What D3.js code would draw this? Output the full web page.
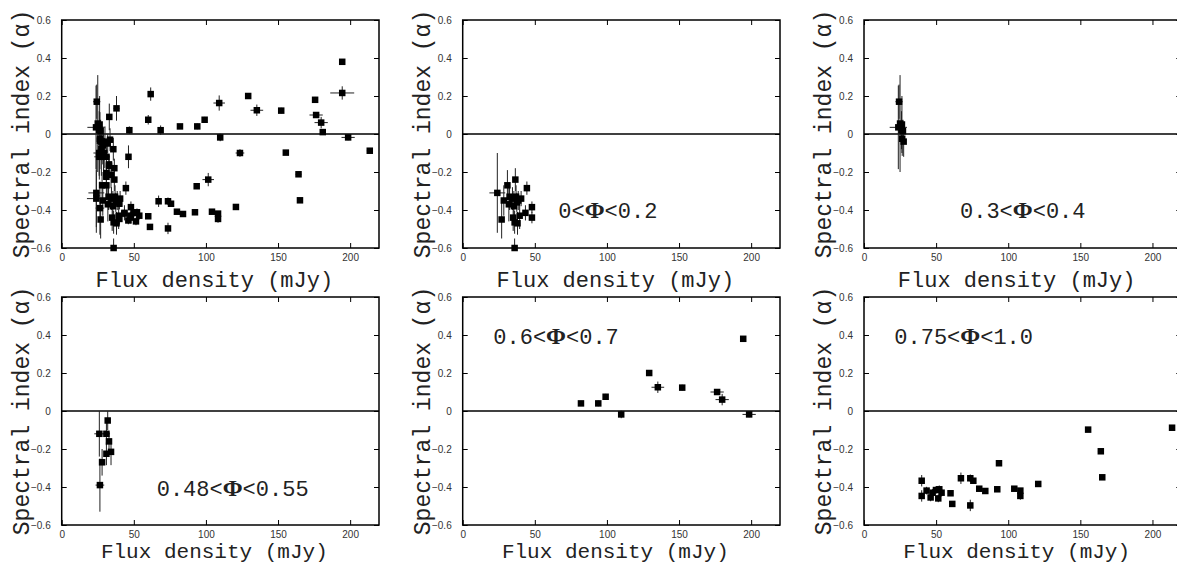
<!DOCTYPE html>
<html>
<head>
<meta charset="utf-8">
<script src="https://cdn.jsdelivr.net/npm/d3@7"></script>
<style>
  html, body { margin: 0; padding: 0; background: #fff; }
  svg { display: block; }
</style>
</head>
<body>
<svg id="chart" width="1177" height="568"></svg>
<script>
// ---- Data: [flux density (mJy), spectral index, flux error, index error] ----
const phase0to02 = [
  [24.0, -0.31, 5.5, 0.21], [27.0, -0.45, 1.5, 0.10], [28.5, -0.35, 1.5, 0.08],
  [31.0, -0.27, 1.5, 0.08], [32.5, -0.33, 1.5, 0.07], [32.0, -0.37, 1.0, 0.09],
  [34.5, -0.34, 1.5, 0.06], [35.5, -0.38, 1.5, 0.08], [35.0, -0.44, 1.0, 0.07],
  [36.5, -0.24, 1.0, 0.06], [37.0, -0.33, 1.5, 0.06], [37.5, -0.36, 1.5, 0.05],
  [36.0, -0.465, 1.0, 0.06], [38.0, -0.47, 1.5, 0.06], [38.5, -0.35, 1.5, 0.05],
  [39.5, -0.43, 1.0, 0.07], [40.5, -0.34, 1.5, 0.04], [44.5, -0.285, 1.0, 0.035],
  [43.5, -0.415, 1.0, 0.04], [48.0, -0.385, 0.8, 0.03], [48.0, -0.44, 0.8, 0.03],
  [36.0, -0.60, 1.0, 0.05]
];
const phase03to04 = [
  [24.3, 0.17, 2.5, 0.09], [23.8, 0.035, 6.0, 0.22], [25.0, 0.055, 1.5, 0.255],
  [26.3, 0.05, 1.5, 0.15], [26.0, 0.02, 1.5, 0.10], [27.0, 0.015, 2.0, 0.06],
  [27.5, -0.04, 1.0, 0.08], [26.5, -0.025, 1.0, 0.09]
];
const phase048to055 = [
  [31.9, -0.05, 1.0, 0.05], [26.1, -0.12, 3.5, 0.12], [31.0, -0.12, 2.5, 0.06],
  [32.8, -0.16, 1.0, 0.05], [34.2, -0.215, 1.5, 0.07], [31.0, -0.225, 1.5, 0.06],
  [28.0, -0.27, 1.5, 0.07], [26.5, -0.39, 3.0, 0.14]
];
const phase06to07 = [
  [82.0, 0.04, 0.8, 0.01], [94.0, 0.04, 0.8, 0.015], [99.1, 0.075, 0.8, 0.015],
  [109.9, -0.018, 1.0, 0.02], [129.3, 0.20, 0.8, 0.01], [135.3, 0.125, 4.4, 0.03],
  [152.2, 0.123, 0.8, 0.015], [176.4, 0.10, 4.6, 0.015], [179.9, 0.06, 4.6, 0.03],
  [194.5, 0.38, 0.8, 0.01], [198.6, -0.018, 4.6, 0.015]
];
const phase075to10 = [
  [40.0, -0.367, 0.5, 0.03], [40.0, -0.447, 0.5, 0.03], [43.4, -0.419, 0.5, 0.02],
  [46.2, -0.455, 0.5, 0.02], [47.6, -0.43, 0.5, 0.02], [49.9, -0.416, 0.5, 0.02],
  [52.2, -0.412, 0.5, 0.02], [51.5, -0.46, 0.5, 0.02], [53.8, -0.43, 0.5, 0.02],
  [60.0, -0.433, 0.5, 0.01], [61.2, -0.489, 0.5, 0.01], [67.2, -0.354, 0.5, 0.03],
  [73.7, -0.354, 0.5, 0.02], [75.8, -0.367, 0.5, 0.01], [73.7, -0.497, 0.5, 0.03],
  [79.9, -0.409, 0.5, 0.01], [84.1, -0.421, 0.5, 0.01], [93.6, -0.275, 0.5, 0.01],
  [92.4, -0.412, 0.5, 0.01], [104.2, -0.409, 0.5, 0.01], [108.4, -0.419, 0.5, 0.01],
  [108.4, -0.447, 0.5, 0.02], [120.8, -0.384, 0.5, 0.01], [155.4, -0.098, 0.5, 0.01],
  [164.2, -0.212, 2.0, 0.01], [165.2, -0.349, 0.5, 0.01], [213.6, -0.088, 2.0, 0.01]
];
// sources shown only in the all-phase panel
const otherPhases = [
  [24.0, -0.34, 6.5, 0.15], [26.5, -0.035, 2.0, 0.15], [27.5, -0.08, 2.5, 0.14],
  [26.0, -0.10, 4.0, 0.12], [28.5, -0.06, 1.5, 0.10], [29.0, -0.12, 1.5, 0.12],
  [30.0, -0.04, 1.5, 0.08], [29.5, -0.10, 1.5, 0.08], [33.5, -0.03, 1.5, 0.06],
  [33.0, 0.09, 1.0, 0.07], [38.0, 0.135, 2.0, 0.065], [35.8, -0.08, 1.0, 0.06],
  [32.8, -0.167, 1.5, 0.06], [36.5, -0.18, 1.5, 0.05], [31.0, -0.205, 1.0, 0.06],
  [46.3, -0.12, 1.5, 0.06], [46.9, 0.02, 1.0, 0.02], [60.0, 0.075, 1.0, 0.025],
  [61.7, 0.21, 1.0, 0.035], [68.6, 0.02, 1.0, 0.025], [101.6, -0.24, 4.0, 0.035],
  [109.2, 0.163, 4.0, 0.04], [123.6, -0.10, 3.0, 0.02], [175.7, 0.18, 1.0, 0.015],
  [181.0, 0.01, 1.0, 0.015], [194.5, 0.216, 8.3, 0.035]
];
const allPhases = [].concat(otherPhases, phase0to02, phase03to04, phase048to055, phase06to07, phase075to10);

const xTicks = [0, 50, 100, 150, 200];
const yTicks = [-0.6, -0.4, -0.2, 0, 0.2, 0.4, 0.6];
const xTitle = "Flux density (mJy)";
const yTitle = "Spectral index (\u03b1)";
const panelLabels = ["", ["0<", "<0.2"], ["0.3<", "<0.4"], ["0.48<", "<0.55"], ["0.6<", "<0.7"], ["0.75<", "<1.0"]];
const panelData = [allPhases, phase0to02, phase03to04, phase048to055, phase06to07, phase075to10];

// ---- Layout ----
const svg = d3.select("#chart");
const W = 317.3, H = 228;
const lefts = [61.7, 462.7, 864];
const tops = [20, 297];
const labelPos = [null, [95.6, 198], [96, 198], [95, 198.7], [30.6, 46.7], [30.3, 46.7]];
const xTitleOff = [38.5, 33];

const x = d3.scaleLinear().domain([0, 220]).range([0, W]);
const y = d3.scaleLinear().domain([-0.6, 0.6]).range([H, 0]);
const fmt = d => d === 0 ? "0" : d3.format(".1f")(d);

panelData.forEach((data, i) => {
  const row = Math.floor(i / 3), col = i % 3;
  const g = svg.append("g").attr("transform", `translate(${lefts[col]},${tops[row]})`);

  // axes (inward ticks)
  g.append("g").attr("transform", `translate(0,${H})`)
    .call(d3.axisBottom(x).tickValues(xTicks).tickSize(-5).tickPadding(6).tickFormat(d3.format("d")));
  g.append("g").call(d3.axisTop(x).tickValues(xTicks).tickSize(-5).tickFormat(""));
  g.append("g").call(d3.axisLeft(y).tickValues(yTicks).tickSize(-5).tickPadding(11).tickFormat(fmt));
  g.append("g").attr("transform", `translate(${W},0)`)
    .call(d3.axisRight(y).tickValues(yTicks).tickSize(-5).tickFormat(""));
  g.selectAll(".domain").remove();
  g.selectAll(".tick line").attr("stroke", "#000").attr("stroke-width", 1);
  g.selectAll(".tick text").attr("font-family", "'Liberation Sans', Arial, sans-serif")
    .attr("font-size", 10).attr("fill", "#333");

  // frame and zero line
  g.append("rect").attr("x", 0).attr("y", 0).attr("width", W).attr("height", H)
    .attr("fill", "none").attr("stroke", "#000").attr("stroke-width", 1.5);
  g.append("line").attr("x1", 0).attr("x2", W).attr("y1", y(0)).attr("y2", y(0))
    .attr("stroke", "#000").attr("stroke-width", 1.5);

  // error bars
  const eb = g.append("g").attr("stroke", "#222").attr("stroke-width", 1);
  eb.selectAll("line.v").data(data).join("line").attr("class", "v")
    .attr("x1", d => x(d[0])).attr("x2", d => x(d[0]))
    .attr("y1", d => y(Math.min(0.6, d[1] + d[3]))).attr("y2", d => y(Math.max(-0.6, d[1] - d[3])));
  eb.selectAll("line.h").data(data).join("line").attr("class", "h")
    .attr("x1", d => x(d[0] - d[2])).attr("x2", d => x(d[0] + d[2]))
    .attr("y1", d => y(d[1])).attr("y2", d => y(d[1]));

  // markers
  const s = 6.5;
  g.append("g").selectAll("rect").data(data).join("rect")
    .attr("x", d => x(d[0]) - s / 2).attr("y", d => y(d[1]) - s / 2)
    .attr("width", s).attr("height", s).attr("fill", "#000");

  // axis titles
  g.append("text").attr("x", W / 2 - 6).attr("y", H + xTitleOff[row])
    .attr("text-anchor", "middle").attr("font-family", "'Liberation Mono', 'Courier New', monospace")
    .attr("font-size", row === 0 ? 22 : 21).attr("fill", "#222").text(xTitle);
  g.append("text").attr("transform", `translate(-33,${H / 2}) rotate(-90)`)
    .attr("text-anchor", "middle").attr("font-family", "'Liberation Mono', 'Courier New', monospace")
    .attr("font-size", 23).attr("fill", "#222").text(yTitle);

  // phase label
  if (panelLabels[i]) {
    const t = g.append("text").attr("x", labelPos[i][0]).attr("y", labelPos[i][1])
      .attr("font-family", "'Liberation Mono', 'Courier New', monospace")
      .attr("font-size", 22).attr("fill", "#222");
    t.append("tspan").text(panelLabels[i][0]);
    t.append("tspan").attr("font-family", "'Liberation Serif', 'Times New Roman', serif")
      .attr("font-weight", "bold").attr("font-size", 24).text("\u03a6");
    t.append("tspan").text(panelLabels[i][1]);
  }
});
</script>
</body>
</html>
